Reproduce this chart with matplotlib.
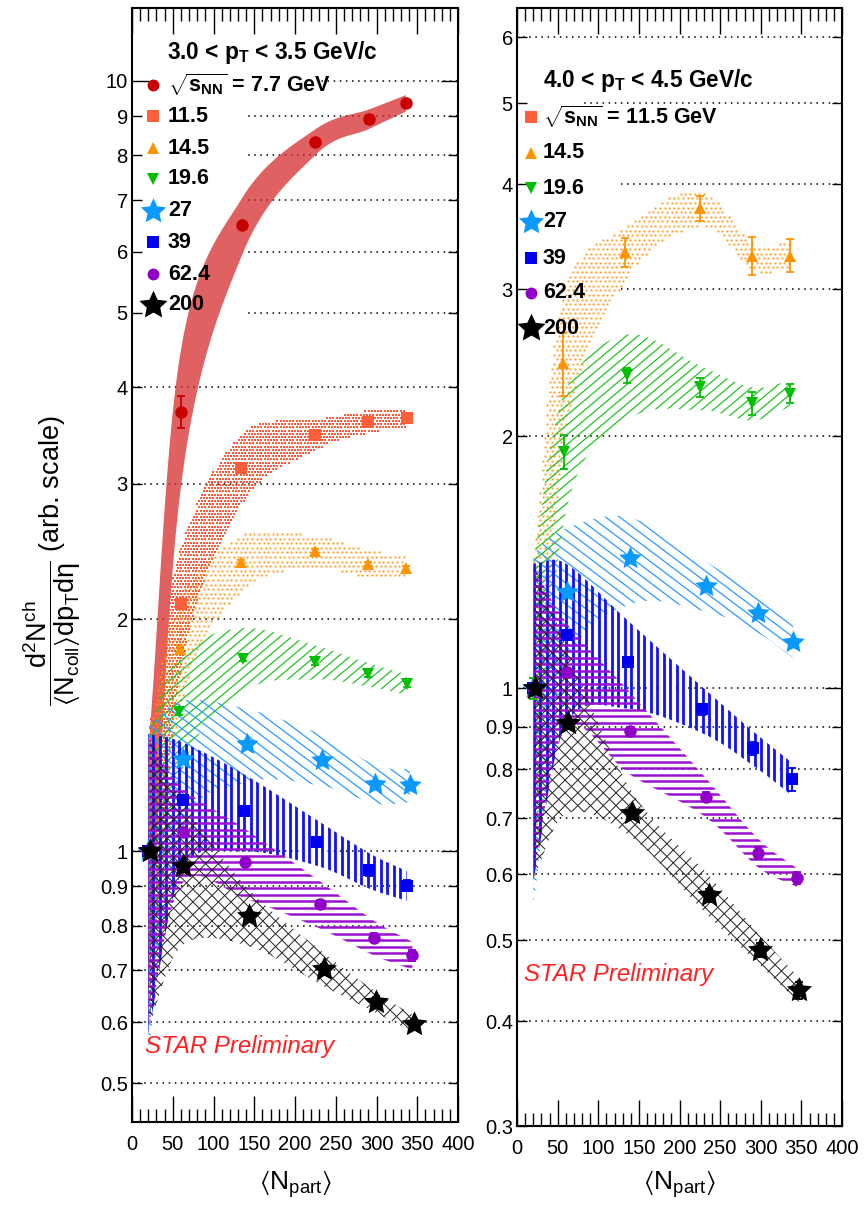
import numpy as np
import matplotlib
matplotlib.use("Agg")
import matplotlib.pyplot as plt
from matplotlib.patches import Polygon, Rectangle
from matplotlib.collections import LineCollection
from matplotlib.path import Path
from matplotlib.ticker import FixedLocator, FuncFormatter, MultipleLocator

plt.rcParams['font.family'] = ['Liberation Sans', 'DejaVu Sans']
plt.rcParams['mathtext.fontset'] = 'custom'
plt.rcParams['mathtext.rm'] = 'Liberation Sans'
plt.rcParams['mathtext.it'] = 'Liberation Sans:italic'
plt.rcParams['mathtext.bf'] = 'Liberation Sans:bold'
plt.rcParams['mathtext.sf'] = 'Liberation Sans'
plt.rcParams['mathtext.default'] = 'regular'

# ---------------- data: 3.0 < pT < 3.5 GeV/c ----------------
a77_npart = [20, 60, 135, 225, 291, 336]
a77_ratio = [1.0, 3.72, 6.49, 8.33, 8.92, 9.35]
a77_sys = [0.35, 0.75, 0.55, 0.32, 0.26, 0.23]
a77_stat = [0.01, 0.18, 0.06, 0.06, 0.12, 0.06]

a115_npart = [20, 60, 134, 224, 290, 337]
a115_ratio = [1.0, 2.09, 3.14, 3.47, 3.61, 3.65]
a115_sys = [0.42, 0.38, 0.33, 0.16, 0.12, 0.10]
a115_stat = [0.01, 0.02, 0.02, 0.02, 0.02, 0.02]

a145_npart = [20, 59, 134, 224, 289, 336]
a145_ratio = [1.0, 1.83, 2.37, 2.45, 2.36, 2.33]
a145_sys = [0.42, 0.30, 0.20, 0.12, 0.10, 0.08]
a145_stat = [0.01, 0.015, 0.015, 0.015, 0.015, 0.015]

a196_npart = [20, 58, 136, 224, 289, 337]
a196_ratio = [1.0, 1.515, 1.778, 1.76, 1.696, 1.646]
a196_sys = [0.42, 0.28, 0.17, 0.09, 0.06, 0.05]
a196_stat = [0.01, 0.015, 0.015, 0.015, 0.015, 0.015]

a27_npart = [20, 62, 141, 233, 298, 341]
a27_ratio = [1.0, 1.318, 1.379, 1.315, 1.223, 1.217]
a27_sys = [0.45, 0.25, 0.15, 0.10, 0.07, 0.06]
a27_stat = [0.01, 0.01, 0.01, 0.01, 0.01, 0.01]

a39_npart = [20, 62, 137, 227, 291, 337]
a39_ratio = [1.0, 1.164, 1.129, 1.027, 0.944, 0.902]
a39_sys = [0.42, 0.22, 0.13, 0.07, 0.05, 0.04]
a39_stat = [0.01, 0.01, 0.01, 0.01, 0.015, 0.015]

a624_npart = [20, 62, 139, 231, 297, 344]
a624_ratio = [1.0, 1.059, 0.968, 0.853, 0.772, 0.732]
a624_sys = [0.40, 0.15, 0.10, 0.06, 0.04, 0.03]
a624_stat = [0.01, 0.01, 0.01, 0.01, 0.01, 0.012]

a200_npart = [22, 63, 143, 235, 299, 346]
a200_ratio = [1.0, 0.956, 0.823, 0.703, 0.637, 0.596]
a200_sys = [0.40, 0.20, 0.07, 0.035, 0.02, 0.015]
a200_stat = [0.01, 0.01, 0.01, 0.01, 0.01, 0.01]

# ---------------- data: 4.0 < pT < 4.5 GeV/c ----------------
b145_npart = [20, 57, 133, 225, 289, 336]
b145_ratio = [1.0, 2.445, 3.32, 3.75, 3.29, 3.29]
b145_sys = [0.42, 0.50, 0.25, 0.18, 0.12, 0.13]
b145_stat = [0.03, 0.21, 0.13, 0.13, 0.17, 0.15]

b196_npart = [20, 58, 135, 225, 289, 336]
b196_ratio = [1.0, 1.918, 2.367, 2.29, 2.19, 2.25]
b196_sys = [0.42, 0.33, 0.28, 0.14, 0.10, 0.08]
b196_stat = [0.03, 0.09, 0.05, 0.06, 0.07, 0.06]

b27_npart = [20, 61, 139, 233, 297, 340]
b27_ratio = [1.0, 1.304, 1.43, 1.325, 1.229, 1.137]
b27_sys = [0.45, 0.25, 0.17, 0.09, 0.065, 0.05]
b27_stat = [0.01, 0.01, 0.01, 0.01, 0.01, 0.01]

b39_npart = [20, 61, 136, 228, 291, 339]
b39_ratio = [1.0, 1.158, 1.076, 0.944, 0.848, 0.779]
b39_sys = [0.41, 0.25, 0.13, 0.06, 0.04, 0.035]
b39_stat = [0.01, 0.01, 0.01, 0.015, 0.015, 0.025]

b624_npart = [20, 61, 139, 232, 297, 345]
b624_ratio = [1.0, 1.047, 0.889, 0.742, 0.636, 0.594]
b624_sys = [0.40, 0.15, 0.10, 0.04, 0.025, 0.015]
b624_stat = [0.01, 0.01, 0.01, 0.01, 0.01, 0.01]

b200_npart = [22, 63, 141, 236, 299, 347]
b200_ratio = [1.0, 0.910, 0.709, 0.566, 0.487, 0.436]
b200_sys = [0.40, 0.20, 0.045, 0.032, 0.02, 0.015]
b200_stat = [0.01, 0.01, 0.01, 0.01, 0.01, 0.01]

energy_labels = ['7.7', '11.5', '14.5', '19.6', '27', '39', '62.4', '200']
yticks_a = [0.5, 0.6, 0.7, 0.8, 0.9, 1, 2, 3, 4, 5, 6, 7, 8, 9, 10]
yticks_b = [0.3, 0.4, 0.5, 0.6, 0.7, 0.8, 0.9, 1, 2, 3, 4, 5, 6]
xticks = [0, 50, 100, 150, 200, 250, 300, 350, 400]


def star_marker(inner=0.48):
    ang = np.pi / 2 + np.arange(10) * np.pi / 5
    r = np.where(np.arange(10) % 2 == 0, 1.0, inner)
    return list(zip(r * np.cos(ang), r * np.sin(ang)))


STAR = star_marker()

# per-energy drawing style
STYLE = {
    '7.7':  dict(color='#c80000', marker='o', ms=9, band=('fill', '#d42a2a', 0.74)),
    '11.5': dict(color='#ff5f3a', marker='s', ms=9, band=('dots', '#ff5a3a', 3.2, 2.0)),
    '14.5': dict(color='#ff9400', marker='^', ms=9, band=('dots', '#ff9a1a', 4.6, 1.9)),
    '19.6': dict(color='#00bf00', marker='v', ms=9, band=('lines', '#22c422', [40], 7.5, 0.9)),
    '27':   dict(color='#0a9aff', marker=STAR, ms=17, band=('lines', '#2a9cff', [-37], 8.5, 0.9)),
    '39':   dict(color='#0000f0', marker='s', ms=9, band=('lines', '#1010ff', [90], 6.5, 2.0)),
    '62.4': dict(color='#9000c8', marker='o', ms=9, band=('lines', '#9a10d0', [0], 6.5, 1.8)),
    '200':  dict(color='#000000', marker=STAR, ms=19, band=('lines', '#202020', [45, -45], 9.0, 0.7)),
}


def catmull_rom(P, n=24):
    P = np.asarray(P, float)
    P = np.vstack([2 * P[0] - P[1], P, 2 * P[-1] - P[-2]])
    out = []
    t = np.linspace(0, 1, n, endpoint=False)[:, None]
    for i in range(1, len(P) - 2):
        p0, p1, p2, p3 = P[i - 1], P[i], P[i + 1], P[i + 2]
        seg = 0.5 * ((2 * p1) + (-p0 + p2) * t + (2 * p0 - 5 * p1 + 4 * p2 - p3) * t ** 2
                     + (-p0 + 3 * p1 - 3 * p2 + p3) * t ** 3)
        out.append(seg)
    out.append(P[-2][None, :])
    return np.vstack(out)


def draw_band(ax, x, y, e, style, z):
    x = np.asarray(x, float)
    y = np.asarray(y, float)
    e = np.asarray(e, float)
    up = catmull_rom(ax.transData.transform(np.column_stack([x, y + e])))
    dn = catmull_rom(ax.transData.transform(np.column_stack([x, y - e])))
    verts_px = np.vstack([up, dn[::-1]])
    to_ax = ax.transAxes.inverted()
    verts = to_ax.transform(verts_px)
    poly = Polygon(verts, closed=True, transform=ax.transAxes)
    kind = style[0]
    if kind == 'fill':
        poly.set_facecolor(style[1])
        poly.set_alpha(style[2])
        poly.set_edgecolor('none')
        poly.set_zorder(z)
        ax.add_patch(poly)
        return
    x0, y0 = verts_px.min(axis=0) - 2
    x1, y1 = verts_px.max(axis=0) + 2
    if kind == 'dots':
        step, size = style[2], style[3]
        gy = np.arange(y0, y1, step)
        pts = []
        for k, yy in enumerate(gy):
            off = (step / 2) * (k % 2)
            gx = np.arange(x0 + off, x1, step)
            pts.append(np.column_stack([gx, np.full_like(gx, yy)]))
        pts = np.vstack(pts)
        inside = Path(verts_px).contains_points(pts)
        pts = to_ax.transform(pts[inside])
        ax.plot(pts[:, 0], pts[:, 1], ls='none', marker='s', ms=size * 0.72,
                mew=0, color=style[1], transform=ax.transAxes, zorder=z)
        return
    # line hatching, clipped to the band outline
    color, angles, step, lw = style[1], style[2], style[3], style[4]
    cx, cy = (x0 + x1) / 2, (y0 + y1) / 2
    R = np.hypot(x1 - x0, y1 - y0) / 2 + step
    segs = []
    for a in angles:
        th = np.deg2rad(a)
        d = np.array([np.cos(th), np.sin(th)])
        nrm = np.array([-np.sin(th), np.cos(th)])
        for t in np.arange(-R, R, step):
            c = np.array([cx, cy]) + t * nrm
            seg = np.vstack([c - R * d, c + R * d])
            segs.append(to_ax.transform(seg))
    lc = LineCollection(segs, colors=color, linewidths=lw, transform=ax.transAxes, zorder=z)
    ax.add_collection(lc, autolim=False)
    lc.set_clip_path(poly)


W, H = 866, 1206
fig = plt.figure(figsize=(W / 100, H / 100), dpi=100)


def fx(px):
    return px / W


def fy(py):
    return 1 - py / H


def setup_axes(rect, ylim, yticks):
    ax = fig.add_axes(rect)
    ax.set_xlim(0, 400)
    ax.set_yscale('log')
    ax.set_ylim(*ylim)
    ax.xaxis.set_major_locator(FixedLocator(xticks))
    ax.xaxis.set_minor_locator(MultipleLocator(10))
    ax.tick_params(axis='x', which='both', direction='in', top=True, bottom=True,
                   labelsize=14.5, pad=9, width=1.0)
    ax.tick_params(axis='x', which='major', length=19)
    ax.tick_params(axis='x', which='minor', length=9.5)
    maj = [v for v in yticks if v in (1, 10)]
    mnr = [v for v in yticks if v not in (1, 10)]
    fmt = FuncFormatter(lambda v, p: '%g' % v)
    ax.yaxis.set_major_locator(FixedLocator(maj))
    ax.yaxis.set_minor_locator(FixedLocator(mnr))
    ax.yaxis.set_major_formatter(fmt)
    ax.yaxis.set_minor_formatter(fmt)
    ax.tick_params(axis='y', which='both', direction='in', left=True, right=True,
                   labelsize=14.5, pad=3, width=1.0)
    ax.tick_params(axis='y', which='major', length=12)
    ax.tick_params(axis='y', which='minor', length=7)
    for s in ax.spines.values():
        s.set_linewidth(1.5)
    for v in yticks:
        ax.axhline(v, color='k', lw=1.1, ls=(0, (1, 3)), zorder=1)
    return ax


def white_box(ax, x0, y0, x1, y1):
    ax.add_patch(Rectangle((fx(x0), fy(y1)), fx(x1) - fx(x0), fy(y0) - fy(y1),
                           transform=fig.transFigure, facecolor='white',
                           edgecolor='none', zorder=1.5))


def draw_series(ax, series):
    for i, (lab, x, y, e, s) in enumerate(series):
        draw_band(ax, x, y, s, STYLE[lab]['band'], 2 + 0.01 * i)
    for i, (lab, x, y, e, s) in enumerate(series):
        st = STYLE[lab]
        ax.errorbar(x, y, yerr=e, fmt='none', ecolor=st['color'], elinewidth=1.3,
                    capsize=3.2, capthick=1.3, zorder=5 + 0.01 * i)
        ax.plot(x, y, ls='none', marker=st['marker'], ms=st['ms'], color=st['color'],
                mew=0, zorder=5.005 + 0.01 * i)


def legend(title, title_xy, labels, mx, tx, rows, lead):
    fig.text(fx(title_xy[0]), fy(title_xy[1]), title, fontsize=16.3, fontweight='bold',
             ha='left', va='center')
    for k, (lab, ry) in enumerate(zip(labels, rows)):
        st = STYLE[lab]
        ms = st['ms'] * (1.12 if st['marker'] is STAR else 0.95)
        fig.lines.append(plt.Line2D([fx(mx)], [fy(ry)], ls='none', marker=st['marker'],
                                    ms=ms, color=st['color'], mew=0,
                                    transform=fig.transFigure, figure=fig))
        text = lead + lab + ' GeV' if k == 0 else lab
        fig.text(fx(tx), fy(ry), text, fontsize=15.5, fontweight='bold',
                 ha='left', va='center')


# ---------------- left panel ----------------
axA = setup_axes([fx(132), fy(1122), fx(458) - fx(132), fy(8) - fy(1122)], (0.445, 12.43), yticks_a)
white_box(axA, 132, 66, 320, 98)
white_box(axA, 132, 98, 248, 322)
draw_series(axA, [
    ('7.7', a77_npart, a77_ratio, a77_stat, a77_sys),
    ('11.5', a115_npart, a115_ratio, a115_stat, a115_sys),
    ('14.5', a145_npart, a145_ratio, a145_stat, a145_sys),
    ('19.6', a196_npart, a196_ratio, a196_stat, a196_sys),
    ('27', a27_npart, a27_ratio, a27_stat, a27_sys),
    ('39', a39_npart, a39_ratio, a39_stat, a39_sys),
    ('62.4', a624_npart, a624_ratio, a624_stat, a624_sys),
    ('200', a200_npart, a200_ratio, a200_stat, a200_sys),
])

# ---------------- right panel ----------------
axB = setup_axes([fx(517), fy(1126), fx(842) - fx(517), fy(8) - fy(1126)], (0.3, 6.5), yticks_b)
white_box(axB, 517, 95, 583, 108)
white_box(axB, 517, 108, 621, 345)
draw_series(axB, [
    ('14.5', b145_npart, b145_ratio, b145_stat, b145_sys),
    ('19.6', b196_npart, b196_ratio, b196_stat, b196_sys),
    ('27', b27_npart, b27_ratio, b27_stat, b27_sys),
    ('39', b39_npart, b39_ratio, b39_stat, b39_sys),
    ('62.4', b624_npart, b624_ratio, b624_stat, b624_sys),
    ('200', b200_npart, b200_ratio, b200_stat, b200_sys),
])

# ---------------- legends and labels ----------------
sqrt_lead = r'$\mathbf{\sqrt{s_{NN}}}$ = '
legend(r'3.0 < $\mathbf{p_{T}}$ < 3.5 GeV/c', (167, 52), energy_labels, 153, 168,
       [85, 116, 148, 179, 211, 242, 274, 305], sqrt_lead)
legend(r'4.0 < $\mathbf{p_{T}}$ < 4.5 GeV/c', (543, 80), energy_labels[1:], 531, 543,
       [117, 153, 188, 222, 258, 293, 328], sqrt_lead)

fig.text(fx(145), fy(1047), 'STAR Preliminary', color='#ff2020', fontsize=17.3,
         style='italic', ha='left', va='center')
fig.text(fx(524), fy(975), 'STAR Preliminary', color='#ff2020', fontsize=17.3,
         style='italic', ha='left', va='center')

for ax_c in (295, 679):
    fig.text(fx(ax_c), fy(1184), r'$\langle N_{part}\rangle$', fontsize=19,
             ha='center', va='center')

fig.text(fx(52), fy(561),
         r'$\dfrac{d^{2}N^{ch}}{\langle N_{coll}\rangle dp_{T}d\eta}$ (arb. scale)',
         fontsize=19.5, rotation=90, ha='center', va='center')

fig.savefig('out.png', dpi=100)
